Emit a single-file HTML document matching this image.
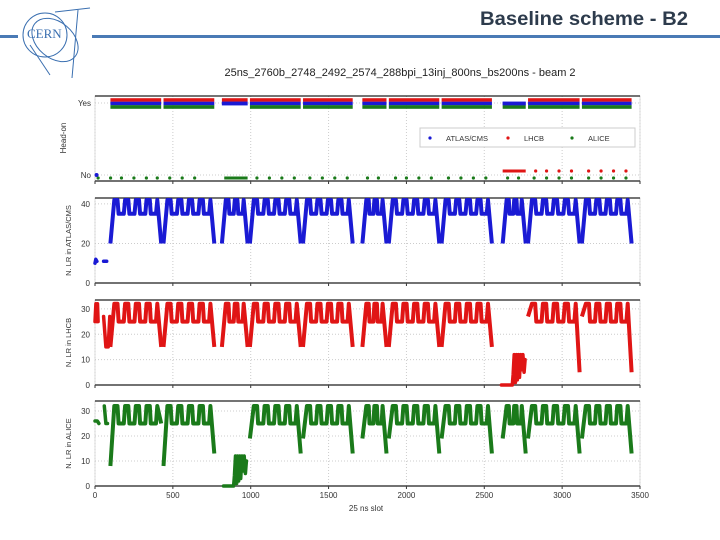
<!DOCTYPE html>
<html><head><meta charset="utf-8"><style>
body{margin:0;background:#fff;}
svg{display:block;font-family:"Liberation Sans",sans-serif;}
</style></head><body>
<svg width="720" height="540" viewBox="0 0 720 540">
<g fill="none" stroke="#3a6fb0" stroke-width="1">
<circle cx="45" cy="35" r="22"/><ellipse cx="55" cy="40" rx="26" ry="18" transform="rotate(40 55 40)"/>
<line x1="55" y1="12" x2="90" y2="8"/><line x1="78" y1="10" x2="72" y2="78"/><line x1="30" y1="45" x2="50" y2="75"/>
<text x="27" y="38" font-size="13" fill="#3a6fb0" stroke="none" font-family="Liberation Serif,serif">CERN</text>
</g>
<rect x="0" y="35" width="18" height="3" fill="#4a7ab5"/>
<rect x="92" y="35" width="628" height="3" fill="#4a7ab5"/>
<text x="688" y="25" text-anchor="end" font-size="19" font-weight="bold" fill="#2d3b4c" textLength="208" lengthAdjust="spacingAndGlyphs">Baseline scheme - B2</text>
<text x="400" y="76" text-anchor="middle" font-size="11" fill="#222">25ns_2760b_2748_2492_2574_288bpi_13inj_800ns_bs200ns - beam 2</text>
<g id="chart"></g>
</svg>
<script>
const trainStart=[99,440,815,995,1336,1717,1887,2226,2618,2781,3127];
const trainEnd=[425,766,980,1321,1655,1872,2211,2549,2766,3112,3446];
const trainBatches=[4,4,2,4,4,2,4,4,2,4,4];
const blueStartLo=[20,20,20,20,20,20,20,20,20,20,20];
const blueEndLo=[20,20,20,20,20,20,20,20,20,20,20];
const redStartLo=[15,15,15,15,15,15,15,15,null,27,27];
const redEndLo=[15,15,15,15,15,15,15,15,null,5,5];
const greenStartLo=[8,8,null,19,19,19,19,19,19,19,19];
const greenEndLo=[25,13,null,13,13,13,13,13,13,13,13];
const blueExtraX=[0,5,12,null,55,75];
const blueExtraY=[10,12,11,null,11,11];
const redExtraX=[0,6,10,16,20,null,55,70,85,95];
const redExtraY=[25,32,25,32,25,null,27,15,15,27];
const redLowX=[2610,2680,2685,2692,2700,2706,2712,2720,2726,2734,2740,2748,2756,2762];
const redLowY=[0,0,4,12,1,12,2,12,3,12,6,12,5,10];
const greenExtraX=[0,15,25,null,60,70,80];
const greenExtraY=[26,26,25,null,32,25,25];
const greenLowX=[825,890,895,902,910,916,922,930,936,944,950,958,966,972];
const greenLowY=[0,0,4,12,1,12,2,12,3,12,6,12,5,10];
const noDotSlots=[20,100,170,250,330,400,480,560,640,1040,1120,1200,1280,1380,1460,1540,1620,1750,1820,1930,2000,2080,2160,2270,2350,2430,2510,2650,2720,2820,2900,2980,3060,3170,3250,3330,3410];
const redNoSlots=[2830,2900,2980,3060,3170,3250,3330,3410];
const xTicks=[0,500,1000,1500,2000,2500,3000,3500];
const NS='http://www.w3.org/2000/svg';
const root=document.getElementById('chart');
const X0=95,X1=640;
function sx(v){return X0+(v/3500)*(X1-X0);}
function mk(tag,a,p){const e=document.createElementNS(NS,tag);for(const k in a)e.setAttribute(k,a[k]);(p||root).appendChild(e);return e;}
function seg(xs,ys,sy,color,g,name){let cur=[];const flush=()=>{if(cur.length){const pl=mk('polyline',{points:cur.join(' '),fill:'none',stroke:color,'stroke-width':3.5,'stroke-linejoin':'round','stroke-linecap':'round'},g);
 }cur=[];};
 xs.forEach((x,i)=>{if(x===null){flush();return;}cur.push(sx(x).toFixed(1)+','+sy(ys[i]).toFixed(1));});flush();}
const panels=[
 {name:'headon',top:96,bot:181},
 {name:'atlas',top:198,bot:283,max:43,ticks:[0,20,40],color:'#1a1ad4',sl:blueStartLo,el:blueEndLo,hi:42,mid:35,ex:blueExtraX,ey:blueExtraY,label:'N. LR in ATLAS/CMS'},
 {name:'lhcb',top:300,bot:385,max:33.5,ticks:[0,10,20,30],color:'#e01515',sl:redStartLo,el:redEndLo,hi:32,mid:25,ex:redExtraX,ey:redExtraY,lx:redLowX,ly:redLowY,label:'N. LR in LHCB'},
 {name:'alice',top:401,bot:486,max:34,ticks:[0,10,20,30],color:'#1a7a1a',sl:greenStartLo,el:greenEndLo,hi:32,mid:25,ex:greenExtraX,ey:greenExtraY,lx:greenLowX,ly:greenLowY,label:'N. LR in ALICE'}
];
panels.forEach((p,pi)=>{
 const g=mk('g',{});
 
 
 mk('rect',{x:X0,y:p.top,width:X1-X0,height:p.bot-p.top,fill:'#fff',stroke:'#ddd'},g);
 xTicks.forEach(t=>{mk('line',{x1:sx(t),x2:sx(t),y1:p.top,y2:p.bot,stroke:'#ccc','stroke-dasharray':'1,2'},g);
  mk('line',{x1:sx(t),x2:sx(t),y1:p.bot,y2:p.bot+3,stroke:'#333'},g);});
 mk('line',{x1:X0,x2:X1,y1:p.top,y2:p.top,stroke:'#222','stroke-width':1.2},g);
 mk('line',{x1:X0,x2:X1,y1:p.bot,y2:p.bot,stroke:'#444','stroke-width':1.5},g);
 if(pi===0){
  const yy={Yes:103,No:175};
  for(const k in yy){mk('line',{x1:X0,x2:X1,y1:yy[k],y2:yy[k],stroke:'#ccc','stroke-dasharray':'1,2'},g);
   const t=mk('text',{x:X0-4,y:yy[k]+3,'text-anchor':'end','font-size':8,fill:'#333'},g);t.textContent=k;
   }
  const lt=mk('text',{x:66,y:138,'text-anchor':'middle','font-size':8,fill:'#333',transform:'rotate(-90 66 138)'},g);lt.textContent='Head-on';
  
  const rows=[['#e01515',100,redStartLo],['#1a1ad4',103.5,blueStartLo],['#1a7a1a',107,greenStartLo]];
  rows.forEach(r=>{trainStart.forEach((s,i)=>{if(r[2][i]===null)return;
   const b=mk('rect',{x:sx(s),y:r[1]-1.8,width:sx(trainEnd[i])-sx(s),height:3.6,fill:r[0]},g);
   });});
  mk('rect',{x:sx(815),y:101.7,width:sx(980)-sx(815),height:3.6,fill:'#1a1ad4'},g);
  mk('rect',{x:sx(2618),y:101.7,width:sx(2766)-sx(2618),height:3.6,fill:'#1a1ad4'},g);
  noDotSlots.forEach(s=>{const c=mk('circle',{cx:sx(s),cy:178,r:1.6,fill:'#1a7a1a'},g);});
  mk('rect',{x:sx(830),y:176.5,width:sx(980)-sx(830),height:3,fill:'#1a7a1a'},g);
  mk('rect',{x:sx(2618),y:169.5,width:sx(2766)-sx(2618),height:3,fill:'#e01515'},g);
  redNoSlots.forEach(s=>{const c=mk('circle',{cx:sx(s),cy:171,r:1.6,fill:'#e01515'},g);});
  mk('circle',{cx:sx(10),cy:175,r:2,fill:'#1a1ad4'},g);
  const lg=mk('g',{},g);
  mk('rect',{x:420,y:128,width:215,height:19,fill:'#fff',stroke:'#ccc'},lg);
  [['ATLAS/CMS','#1a1ad4',430],['LHCB','#e01515',508],['ALICE','#1a7a1a',572]].forEach(e=>{
   const eg=mk('g',{},lg);
   mk('circle',{cx:e[2],cy:138,r:1.6,fill:e[1]},eg);const t=mk('text',{x:e[2]+16,y:141,'font-size':7.5,fill:'#333'},eg);t.textContent=e[0];});
  return;
 }
 const sy=v=>p.bot-(v/p.max)*(p.bot-p.top);
 p.ticks.forEach(t=>{if(t>0)mk('line',{x1:X0,x2:X1,y1:sy(t),y2:sy(t),stroke:'#ccc','stroke-dasharray':'1,2'},g);
  const tx=mk('text',{x:X0-5,y:sy(t)+3,'text-anchor':'end','font-size':8,fill:'#333'},g);tx.textContent=t;
  });
 const cy=(p.top+p.bot)/2;
 const lt=mk('text',{x:71,y:cy,'text-anchor':'middle','font-size':7.5,fill:'#333',transform:'rotate(-90 71 '+cy+')'},g);lt.textContent=p.label;
 
 trainStart.forEach((s,i)=>{
  if(p.sl[i]===null)return;
  const e=trainEnd[i],nb=trainBatches[i],w=(e-s-50)/nb,pts=[];
  pts.push([s,p.sl[i]]);pts.push([s+25,p.hi]);
  for(let b=0;b<nb;b++){const bs=s+25+b*w;
   pts.push([bs+w*0.3,p.hi],[bs+w*0.4,p.mid],[bs+w*0.88,p.mid],[bs+w,p.hi]);}
  pts.push([e-25,p.hi]);pts.push([e,p.el[i]]);
  const pl=mk('polyline',{points:pts.map(q=>sx(q[0]).toFixed(1)+','+sy(q[1]).toFixed(1)).join(' '),fill:'none',stroke:p.color,'stroke-width':4,'stroke-linejoin':'round'},g);
  
 });
 seg(p.ex,p.ey,sy,p.color,g,p.name+'-early-points');
 if(p.lx)seg(p.lx,p.ly,sy,p.color,g,p.name+'-low-points');
 if(pi===3){xTicks.forEach(t=>{const tx=mk('text',{x:sx(t),y:498,'text-anchor':'middle','font-size':8,fill:'#333'},g);tx.textContent=t;
  });
  const xl=mk('text',{x:366,y:511,'text-anchor':'middle','font-size':8,fill:'#333'},g);xl.textContent='25 ns slot';
  }
});
</script>
</body></html>
